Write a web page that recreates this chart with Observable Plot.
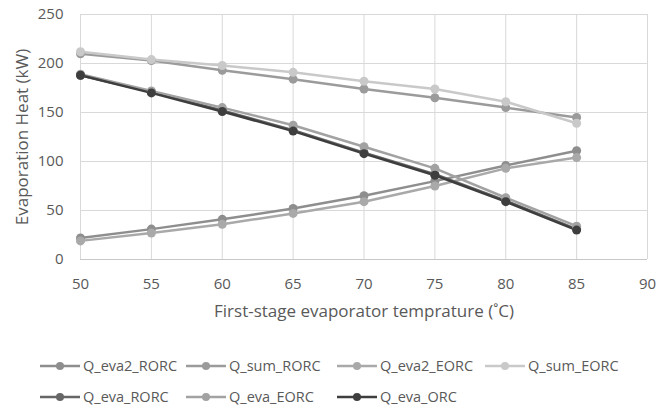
<!DOCTYPE html>
<html>
<head>
<meta charset="utf-8">
<script src="https://cdn.jsdelivr.net/npm/d3@7"></script>
<script src="https://cdn.jsdelivr.net/npm/@observablehq/plot@0.6"></script>
<style>
  body { margin: 0; background: #fff; font-family: "Open Sans", sans-serif; }
  #wrap { position: relative; width: 665px; height: 412px; }
  #legend { position: absolute; left: 0; top: 330px; width: 665px; height: 82px; }
  .item { position: absolute; display: flex; align-items: center; font-size: 14.5px; color: #595959; white-space: nowrap; }
  .item svg { margin-right: 3px; }
</style>
</head>
<body>
<div id="wrap"><div id="chart"></div><div id="legend"></div></div>
<script>
const temps = [50, 55, 60, 65, 70, 75, 80, 85];
const seriesNames = ["Q_eva2_RORC", "Q_sum_RORC", "Q_eva2_EORC", "Q_sum_EORC", "Q_eva_RORC", "Q_eva_EORC", "Q_eva_ORC"];
const Q_eva2_RORC = [22, 31, 41, 52, 65, 80, 96, 111];
const Q_sum_RORC = [210, 203, 193, 184, 174, 165, 155, 145];
const Q_eva2_EORC = [19, 27, 36, 47, 59, 75, 93, 104];
const Q_sum_EORC = [212, 204, 198, 191, 182, 174, 161, 139];
const Q_eva_RORC = [188, 171, 152, 132, 109, 87, 60, 31];
const Q_eva_EORC = [189, 172, 155, 137, 115, 93, 63, 34];
const Q_eva_ORC = [188, 170, 151, 131, 108, 86, 59, 30];
const xTicks = [50, 55, 60, 65, 70, 75, 80, 85, 90];
const yTicks = [0, 50, 100, 150, 200, 250];
const colors = ["#8e8e8e", "#9b9b9b", "#a9a9a9", "#c9c9c9", "#666666", "#a2a2a2", "#3e3e3e"];

const valuesBySeries = [Q_eva2_RORC, Q_sum_RORC, Q_eva2_EORC, Q_sum_EORC, Q_eva_RORC, Q_eva_EORC, Q_eva_ORC];
const data = [];
seriesNames.forEach((s, i) => temps.forEach((t, j) => data.push({series: s, t, q: valuesBySeries[i][j]})));

const chart = Plot.plot({
  width: 665,
  height: 330,
  marginTop: 14,
  marginBottom: 71,
  marginLeft: 80,
  marginRight: 18,
  style: {fontFamily: "Open Sans, sans-serif", fontSize: "15px", color: "#595959", background: "#fff"},
  x: {domain: [50, 90], ticks: xTicks, tickSize: 0, tickPadding: 19, label: null},
  y: {domain: [0, 250], ticks: yTicks, tickSize: 0, tickPadding: 17, label: null},
  color: {domain: seriesNames, range: colors},
  marks: [
    Plot.gridX(xTicks, {stroke: "#d9d9d9", strokeOpacity: 1, strokeWidth: 1}),
    Plot.gridY(yTicks, {stroke: "#d9d9d9", strokeOpacity: 1, strokeWidth: 1}),
    Plot.ruleY([0], {stroke: "#c8c8c8"}),
    Plot.axisX({ticks: xTicks, tickSize: 0, tickPadding: 19, label: null, fontSize: 15}),
    Plot.axisY({ticks: yTicks, tickSize: 0, tickPadding: 17, label: null, fontSize: 15}),
    Plot.line(data, {x: "t", y: "q", z: "series", stroke: "series", strokeWidth: 2.5}),
    Plot.dot(data, {x: "t", y: "q", fill: "series", r: 4.5}),
    Plot.text(["First-stage evaporator temprature (˚C)"], {frameAnchor: "bottom", textAnchor: "middle", dy: 57, fontSize: 17, fill: "#595959"}),
    Plot.text(["Evaporation Heat (kW)"], {frameAnchor: "left", textAnchor: "middle", dx: -58, rotate: -90, fontSize: 17, fill: "#595959"})
  ]
});
document.getElementById("chart").appendChild(chart);

// legend
const legend = document.getElementById("legend");
const positions = [[40, 37], [186, 37], [337, 37], [485, 37], [40, 68], [186, 68], [337, 68]];
seriesNames.forEach((s, i) => {
  const div = document.createElement("div");
  div.className = "item";
  div.style.left = positions[i][0] + "px";
  div.style.top = (positions[i][1] - 11) + "px";
  div.innerHTML = `<svg width="40" height="12"><line x1="0" y1="6" x2="40" y2="6" stroke="${colors[i]}" stroke-width="2.5"/><circle cx="20" cy="6" r="4" fill="${colors[i]}"/></svg><span>${s}</span>`;
  legend.appendChild(div);
});
</script>
</body>
</html>
